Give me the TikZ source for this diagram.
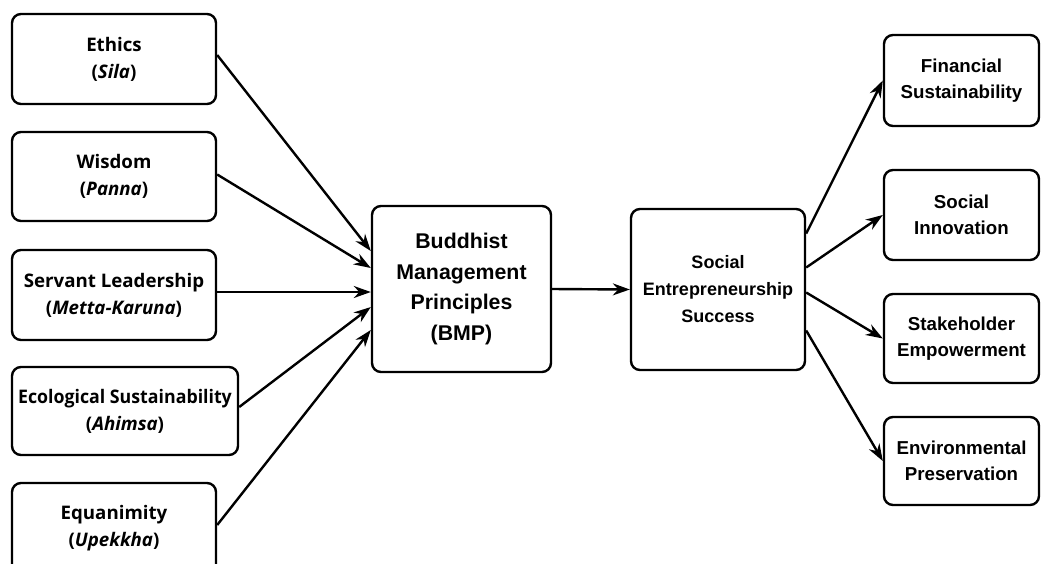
\documentclass[tikz,border=0pt]{standalone}
\usepackage{fontspec}
\setmainfont{Liberation Sans}
\newfontfamily\osans{Open Sans}
\usetikzlibrary{arrows.meta}
\begin{document}
\begin{tikzpicture}[x=1pt,y=-1pt,
  box/.style={draw=black, line width=2.4pt, rounded corners=9pt, align=center, inner sep=0pt, fill=white},
  lbox/.style={box, font=\osans\bfseries\fontsize{18.7}{27}\selectfont},
  cbox/.style={box, font=\bfseries\fontsize{21.3}{30.5}\selectfont},
  sbox/.style={box, font=\bfseries\fontsize{18}{27}\selectfont},
  rbox/.style={box, font=\bfseries\fontsize{18.7}{26.5}\selectfont},
  arr/.style={line width=2.4pt, -{Stealth[length=17pt,width=12pt]}}]
\useasboundingbox (0,0) rectangle (1041,563);
\fill[white] (0,0) rectangle (1041,563);
% left
\node[lbox, minimum width=204pt, minimum height=90pt] (eth) at (114,59) {Ethics\\(\textit{Sila})};
\node[lbox, minimum width=204pt, minimum height=89pt] (wis) at (114,176.5) {Wisdom\\(\textit{Panna})};
\node[lbox, minimum width=204pt, minimum height=90pt] (ser) at (114,295) {Servant Leadership\\(\textit{Metta-Karuna})};
\node[lbox, minimum width=226pt, minimum height=88pt] (eco) at (125,411) {\scalebox{0.95}[1]{Ecological Sustainability}\\(\textit{Ahimsa})};
\node[lbox, minimum width=204pt, minimum height=90pt] (equ) at (114,528) {Equanimity\\(\textit{Upekkha})};
% center
\node[cbox, minimum width=179pt, minimum height=166pt] (bmp) at (461.5,289) {Buddhist\\Management\\Principles\\(BMP)};
\node[sbox, minimum width=174pt, minimum height=161pt] (ses) at (718,289.5) {Social\\Entrepreneurship\\Success};
% right
\node[rbox, minimum width=155pt, minimum height=91pt] (fin) at (961.5,80.5) {Financial\\Sustainability};
\node[rbox, minimum width=155pt, minimum height=90pt] (inn) at (961.5,215) {Social\\Innovation};
\node[rbox, minimum width=155pt, minimum height=89pt] (stk) at (961.5,338.5) {Stakeholder\\Empowerment};
\node[rbox, minimum width=155pt, minimum height=88pt] (env) at (961.5,461) {Environmental\\Preservation};
% arrows in
\draw[arr] ([yshift=4pt]eth.east) -- ([yshift=38pt]bmp.west);
\draw[arr] ([yshift=2pt]wis.east) -- ([yshift=21pt]bmp.west);
\draw[arr] ([yshift=3pt]ser.east) -- ([yshift=-3pt]bmp.west);
\draw[arr] ([yshift=4pt]eco.east) -- ([yshift=-18pt]bmp.west);
\draw[arr] ([yshift=3pt]equ.east) -- ([yshift=-41pt]bmp.west);
\draw[arr] (bmp.east) -- (ses.west);
% arrows out
\draw[arr] ([yshift=56pt]ses.east) -- (fin.west);
\draw[arr] ([yshift=22pt]ses.east) -- (inn.west);
\draw[arr] ([yshift=-3pt]ses.east) -- (stk.west);
\draw[arr] ([yshift=-41pt]ses.east) -- (env.west);
\end{tikzpicture}
\end{document}
